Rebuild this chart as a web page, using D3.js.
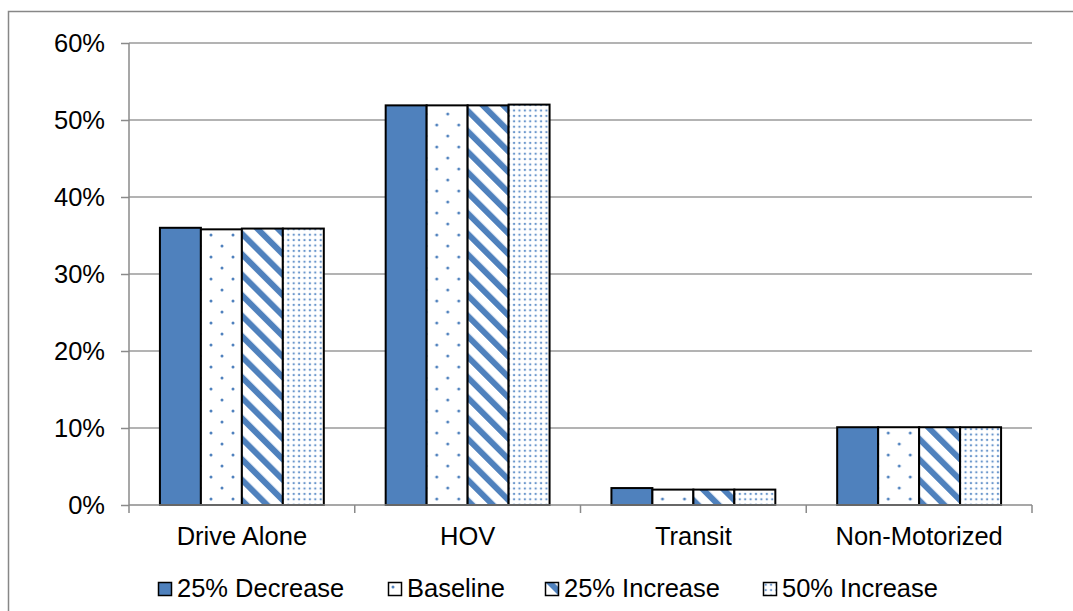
<!DOCTYPE html>
<html>
<head>
<meta charset="utf-8">
<script src="https://cdn.jsdelivr.net/npm/d3@7"></script>
<style>
  body { margin: 0; background: #fff; }
  text { font-family: "Liberation Sans", Arial, sans-serif; }
</style>
</head>
<body>
<svg id="chart" width="1073" height="611"></svg>
<script>
// Chart data
const categories = ["Drive Alone", "HOV", "Transit", "Non-Motorized"];
const seriesNames = ["25% Decrease", "Baseline", "25% Increase", "50% Increase"];
const decrease25 = [0.360, 0.519, 0.022, 0.101];
const baseline   = [0.358, 0.519, 0.020, 0.101];
const increase25 = [0.359, 0.519, 0.020, 0.101];
const increase50 = [0.359, 0.520, 0.020, 0.101];
const yTicks = [0, 0.1, 0.2, 0.3, 0.4, 0.5, 0.6];

const seriesValues = [decrease25, baseline, increase25, increase50];
const blue = "#4F81BD";
const fontSize = 25.5;

const svg = d3.select("#chart");
const margin = { top: 43, right: 41, bottom: 106, left: 129 };
const width = 1073 - margin.left - margin.right;
const height = 611 - margin.top - margin.bottom;

// Outer chart border
svg.append("rect")
    .attr("x", 8.5).attr("y", 11.5)
    .attr("width", 1080).attr("height", 620)
    .attr("fill", "none")
    .attr("stroke", "#878787")
    .attr("stroke-width", 1.5);

// Fill patterns
const defs = svg.append("defs");

const pSparse = defs.append("pattern")
    .attr("id", "p1").attr("patternUnits", "userSpaceOnUse")
    .attr("width", 22).attr("height", 22);
pSparse.append("rect").attr("width", 22).attr("height", 22).attr("fill", "#fff");
pSparse.append("circle").attr("cx", 5).attr("cy", 5).attr("r", 1.5).attr("fill", blue);
pSparse.append("circle").attr("cx", 16).attr("cy", 16).attr("r", 1.5).attr("fill", blue);

const pStripe = defs.append("pattern")
    .attr("id", "p2").attr("patternUnits", "userSpaceOnUse")
    .attr("width", 14.5).attr("height", 14.5)
    .attr("patternTransform", "rotate(-45)");
pStripe.append("rect").attr("width", 14.5).attr("height", 14.5).attr("fill", "#fff");
pStripe.append("rect").attr("width", 6).attr("height", 14.5).attr("fill", blue);

const pDense = defs.append("pattern")
    .attr("id", "p3").attr("patternUnits", "userSpaceOnUse")
    .attr("width", 5.4).attr("height", 5.4);
pDense.append("rect").attr("width", 5.4).attr("height", 5.4).attr("fill", "#fff");
pDense.append("circle").attr("cx", 2.7).attr("cy", 2.7).attr("r", 1.2).attr("fill", "#6b97cc");

const fills = [blue, "url(#p1)", "url(#p2)", "url(#p3)"];

const g = svg.append("g")
    .attr("transform", "translate(" + margin.left + "," + margin.top + ")");

// Scales
const x0 = d3.scaleBand()
    .domain(categories)
    .range([0, width])
    .paddingInner(0)
    .paddingOuter(0);

const groupWidth = x0.bandwidth() * 0.726;
const x1 = d3.scaleBand()
    .domain(seriesNames)
    .range([(x0.bandwidth() - groupWidth) / 2, (x0.bandwidth() + groupWidth) / 2])
    .padding(0);

const y = d3.scaleLinear()
    .domain([0, 0.6])
    .range([height, 0]);

// Gridlines
g.append("g")
    .selectAll("line")
    .data(yTicks.filter(d => d > 0))
    .enter().append("line")
    .attr("x1", 0).attr("x2", width)
    .attr("y1", d => y(d)).attr("y2", d => y(d))
    .attr("stroke", "#9a9a9a")
    .attr("stroke-width", 1.5);

// Y axis
const yAxis = g.append("g")
    .call(d3.axisLeft(y).tickValues(yTicks).tickFormat(d3.format(".0%")).tickSize(8).tickPadding(16));
yAxis.attr("font-size", fontSize).attr("font-family", "Liberation Sans, Arial, sans-serif");
yAxis.select(".domain").attr("stroke", "#8a8a8a").attr("stroke-width", 1.5).attr("d", "M0,0V" + height);
yAxis.selectAll(".tick line").attr("stroke", "#8a8a8a").attr("stroke-width", 1.5);
yAxis.selectAll(".tick text").attr("fill", "#000");

// Bars
const groups = g.selectAll(".cat")
    .data(categories)
    .enter().append("g")
    .attr("class", "cat")
    .attr("transform", d => "translate(" + x0(d) + ",0)");

groups.selectAll("rect")
    .data((c, ci) => seriesNames.map((s, si) => ({ s: s, si: si, v: seriesValues[si][ci] })))
    .enter().append("rect")
    .attr("x", d => x1(d.s))
    .attr("y", d => y(d.v))
    .attr("width", x1.bandwidth())
    .attr("height", d => height - y(d.v))
    .attr("fill", d => fills[d.si])
    .attr("stroke", "#000")
    .attr("stroke-width", 2);

// X axis
const xAxis = g.append("g")
    .attr("transform", "translate(0," + height + ")")
    .call(d3.axisBottom(x0).tickSize(0).tickPadding(22));
xAxis.attr("font-size", fontSize).attr("font-family", "Liberation Sans, Arial, sans-serif");
xAxis.select(".domain").remove();
xAxis.selectAll(".tick text").attr("fill", "#000").attr("dy", null).attr("y", 40);
g.append("line")
    .attr("x1", 0).attr("x2", width)
    .attr("y1", height).attr("y2", height)
    .attr("stroke", "#8a8a8a").attr("stroke-width", 1.5);
g.append("g").selectAll("line")
    .data(d3.range(categories.length + 1))
    .enter().append("line")
    .attr("x1", i => i * x0.step()).attr("x2", i => i * x0.step())
    .attr("y1", height).attr("y2", height + 8)
    .attr("stroke", "#8a8a8a").attr("stroke-width", 1.5);

// Legend
const legendX = [158, 388, 545, 763];
const legend = svg.append("g");
seriesNames.forEach((name, i) => {
    const item = legend.append("g").attr("transform", "translate(" + legendX[i] + ",582)");
    item.append("rect")
        .attr("x", 0.5).attr("y", 0.5)
        .attr("width", 13).attr("height", 13)
        .attr("fill", fills[i])
        .attr("stroke", "#000").attr("stroke-width", 1.5);
    item.append("text")
        .attr("x", 19).attr("y", 15)
        .attr("font-size", fontSize)
        .attr("fill", "#000")
        .text(name);
});
</script>
</body>
</html>
